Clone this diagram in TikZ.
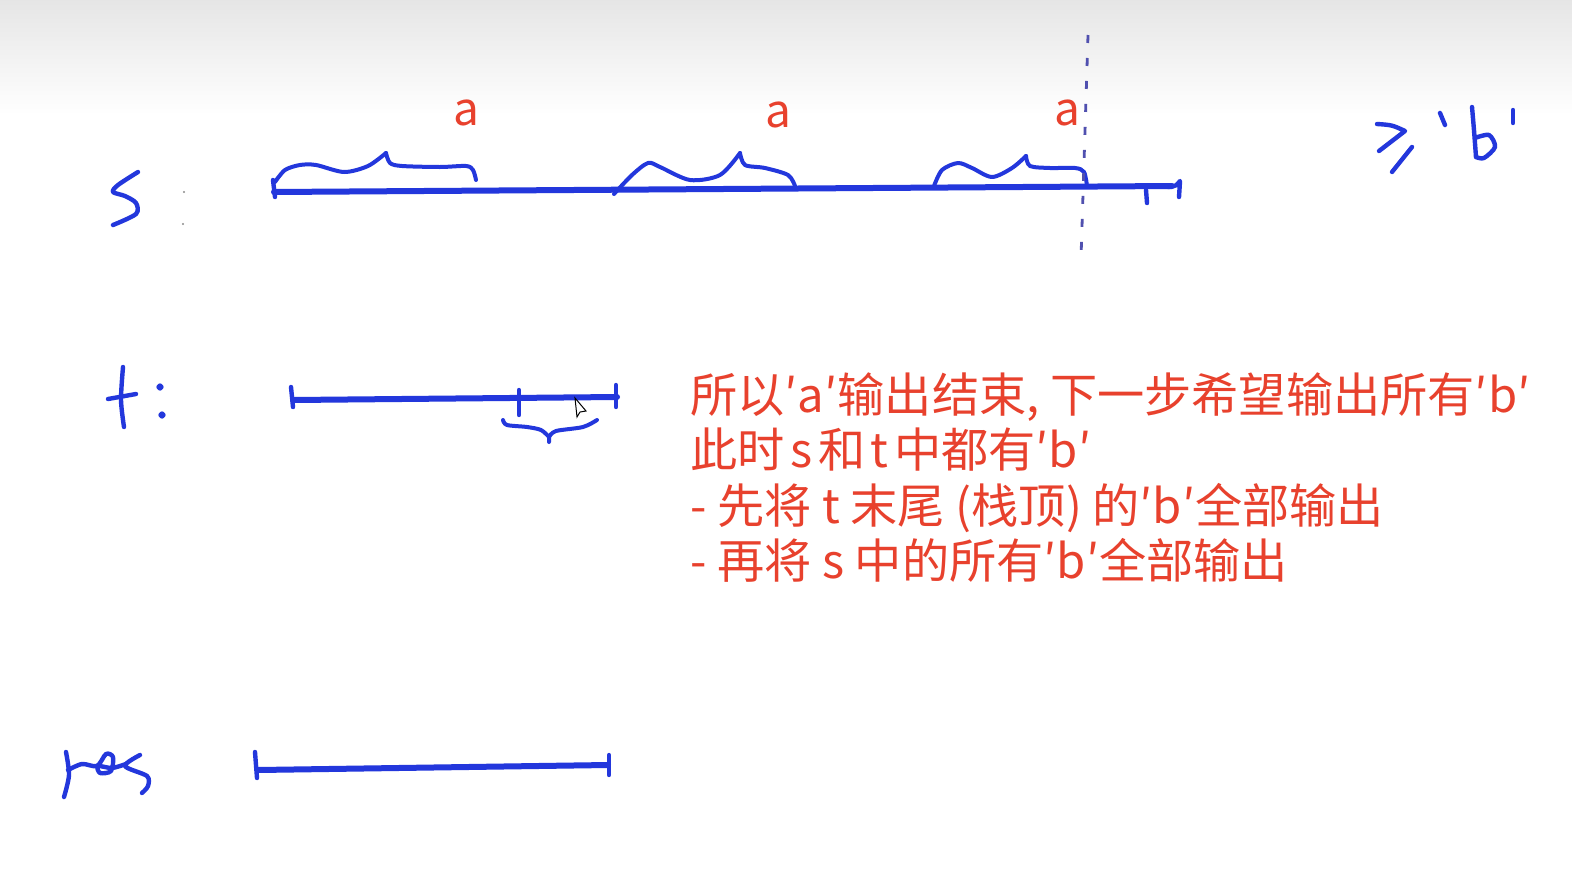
\documentclass[tikz,border=0pt]{standalone}
\usepackage{fontspec}
\newfontfamily\cjk{Noto Sans CJK SC}
\definecolor{pen}{RGB}{35,55,220}
\definecolor{dotpen}{RGB}{80,80,175}
\definecolor{txt}{RGB}{232,65,45}
\newcommand{\nsp}{\hspace{2.8pt}}
\begin{document}
\begin{tikzpicture}[x=0.5pt,y=-0.5pt,
  pen/.style={draw=pen, line width=2.2pt, line cap=round, line join=round},
  brace/.style={pen, line width=2pt},
  bar/.style={pen, line width=3pt},
  lab/.style={text=txt, font=\cjk\fontsize{23.6}{28}\selectfont, inner sep=0pt, anchor=base west},
  alab/.style={text=txt, font=\cjk\fontsize{23}{28}\selectfont, inner sep=0pt, anchor=base}]
\useasboundingbox (0,0) rectangle (1572,878);
\fill[white] (0,0) rectangle (1572,878);
\shade[top color=black!10, bottom color=white] (0,0) rectangle (1572,115);

% ---- s row ----
\draw[pen] plot[smooth] coordinates {(138,172) (118,185) (113,192) (125,196) (136,203) (136,214) (113,225)};
\fill[black!45] (184,192) circle (1.2);
\fill[black!45] (183,224) circle (1.2);
\draw[bar] (274,192) -- (1172,186);
\draw[pen] (273,180) -- (275,197);
\draw[pen] (1168,187) .. controls (1176,186) .. (1180,181) -- (1179,197);
\draw[pen] (1146,190) -- (1147,203);
% braces
\draw[brace] plot[smooth] coordinates {(275,182) (285,170) (300,165) (316,165) (344,172) (368,166) (386,153)};
\draw[brace] plot[smooth] coordinates {(386,153) (390,163) (402,166) (440,167) (466,166) (473,170) (476,180)};
\draw[brace] plot[smooth] coordinates {(614,194) (632,175) (648,163) (660,167) (690,180) (720,175) (740,153)};
\draw[brace] plot[smooth] coordinates {(740,153) (745,165) (765,168) (788,175) (795,186)};
\draw[brace] plot[smooth] coordinates {(934,186) (942,170) (958,163) (972,168) (992,177) (1012,168) (1026,156)};
\draw[brace] plot[smooth] coordinates {(1026,156) (1030,166) (1050,168) (1075,168) (1084,172) (1087,186)};
\draw[draw=dotpen, line width=1.4pt, dash pattern=on 4pt off 7.5pt] (1088,35) -- (1081,258);
\node[alab] (a1) at (466,125) {a};
\node[alab] (a2) at (778,127) {a};
\node[alab] (a3) at (1067,125) {a};

% ---- >= 'b' ----
\draw[pen] (1377,124) .. controls (1392,125) .. (1405,131) -- (1379,151);
\draw[pen] (1412,147) -- (1392,172);
\draw[pen] (1440,113) -- (1445,125);
\draw[pen] (1472,107) .. controls (1474,130) .. (1476,157);
\draw[pen] plot[smooth] coordinates {(1475,138) (1489,135) (1495,147) (1484,158) (1476,157)};
\draw[pen] (1513,110) -- (1513,123);

% ---- t row ----
\draw[pen] plot[smooth] coordinates {(123,367) (121,400) (124,427)};
\draw[pen] (108,399) -- (136,394);
\fill[pen] (160,387) circle (1.5);
\fill[pen] (162,415) circle (1.5);
\draw[bar] (293,400) -- (617,397);
\draw[pen] (291,387) -- (293,407);
\draw[pen] (519,390) -- (519,415);
\draw[pen] (616,385) -- (616,407);
\draw[brace] plot[smooth] coordinates {(503,420) (507,425) (527,427) (541,430) (549,437)} -- (549,442);
\draw[brace] plot[smooth] coordinates {(549,437) (556,431) (583,427) (597,420)};
\draw[black, line width=0.5pt, fill=white] (575,398) -- (577,417) -- (580,412) -- (586,411) -- cycle;

% ---- res row ----
\draw[pen] plot[smooth] coordinates {(66,752) (69,775) (64,797)};
\draw[pen] plot[smooth] coordinates {(68,770) (82,764) (97,766) (106,754) (113,757) (111,771) (100,773) (98,766) (112,768) (126,764)};
\draw[pen] plot[smooth] coordinates {(140,755) (125,766) (147,776) (148,786) (142,793)};
\draw[bar] (258,770) -- (608,765);
\draw[pen] (255,752) -- (257,778);
\draw[pen] (609,755) -- (609,775);

% ---- red text ----
\node[lab] (l1) at (690,412) {所以′a′输出结束, 下一步希望输出所有′b′};
\node[lab] (l2) at (690,467) {此时\nsp s\nsp 和\nsp t\nsp 中都有′b′};
\node[lab] (l3) at (690,523) {- 先将 t 末尾 (栈顶) 的′b′全部输出};
\node[lab] (l4) at (690,578) {- 再将 s 中的所有′b′全部输出};
\end{tikzpicture}
\end{document}
